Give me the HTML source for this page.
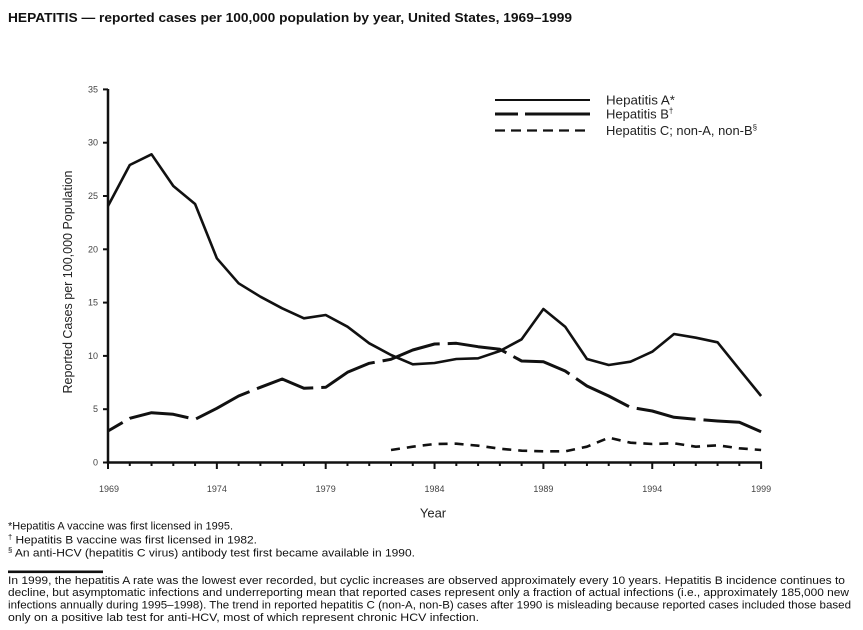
<!DOCTYPE html>
<html><head><meta charset="utf-8"><style>
html,body{margin:0;padding:0;background:#fff;}
svg{display:block;}
text{font-family:"Liberation Sans",Arial,sans-serif;}
</style></head><body>
<svg width="863" height="630" viewBox="0 0 863 630" xmlns="http://www.w3.org/2000/svg">
<rect width="863" height="630" fill="#fff"/>
<text x="8" y="22" font-size="13" font-weight="bold" fill="#111" textLength="564" lengthAdjust="spacingAndGlyphs">HEPATITIS — reported cases per 100,000 population by year, United States, 1969–1999</text>

<!-- axes -->
<g stroke="#111" stroke-width="2.5" fill="none">
<line x1="108" y1="89" x2="108" y2="463.5"/>
<line x1="106.8" y1="462.5" x2="762" y2="462.5"/>
</g>
<g stroke="#111" stroke-width="2">
<line x1="103" y1="462.5" x2="108" y2="462.5"/>
<line x1="103" y1="409.2" x2="108" y2="409.2"/>
<line x1="103" y1="355.9" x2="108" y2="355.9"/>
<line x1="103" y1="302.6" x2="108" y2="302.6"/>
<line x1="103" y1="249.3" x2="108" y2="249.3"/>
<line x1="103" y1="196" x2="108" y2="196"/>
<line x1="103" y1="142.7" x2="108" y2="142.7"/>
<line x1="103" y1="89.4" x2="108" y2="89.4"/>
</g>
<g stroke="#111" stroke-width="2">
<line x1="108" y1="462" x2="108" y2="469"/>
<line x1="129.77" y1="462" x2="129.77" y2="466"/>
<line x1="151.54" y1="462" x2="151.54" y2="466"/>
<line x1="173.31" y1="462" x2="173.31" y2="466"/>
<line x1="195.08" y1="462" x2="195.08" y2="466"/>
<line x1="216.85" y1="462" x2="216.85" y2="469"/>
<line x1="238.62" y1="462" x2="238.62" y2="466"/>
<line x1="260.39" y1="462" x2="260.39" y2="466"/>
<line x1="282.16" y1="462" x2="282.16" y2="466"/>
<line x1="303.93" y1="462" x2="303.93" y2="466"/>
<line x1="325.7" y1="462" x2="325.7" y2="469"/>
<line x1="347.47" y1="462" x2="347.47" y2="466"/>
<line x1="369.24" y1="462" x2="369.24" y2="466"/>
<line x1="391.01" y1="462" x2="391.01" y2="466"/>
<line x1="412.78" y1="462" x2="412.78" y2="466"/>
<line x1="434.55" y1="462" x2="434.55" y2="469"/>
<line x1="456.32" y1="462" x2="456.32" y2="466"/>
<line x1="478.09" y1="462" x2="478.09" y2="466"/>
<line x1="499.86" y1="462" x2="499.86" y2="466"/>
<line x1="521.63" y1="462" x2="521.63" y2="466"/>
<line x1="543.4" y1="462" x2="543.4" y2="469"/>
<line x1="565.17" y1="462" x2="565.17" y2="466"/>
<line x1="586.94" y1="462" x2="586.94" y2="466"/>
<line x1="608.71" y1="462" x2="608.71" y2="466"/>
<line x1="630.48" y1="462" x2="630.48" y2="466"/>
<line x1="652.25" y1="462" x2="652.25" y2="469"/>
<line x1="674.02" y1="462" x2="674.02" y2="466"/>
<line x1="695.79" y1="462" x2="695.79" y2="466"/>
<line x1="717.56" y1="462" x2="717.56" y2="466"/>
<line x1="739.33" y1="462" x2="739.33" y2="466"/>
<line x1="761.1" y1="462" x2="761.1" y2="469"/>
</g>

<!-- y tick labels -->
<g font-size="9" fill="#444" text-anchor="end">
<text x="98" y="465.5">0</text>
<text x="98" y="412.2">5</text>
<text x="98" y="358.9">10</text>
<text x="98" y="305.6">15</text>
<text x="98" y="252.3">20</text>
<text x="98" y="199">25</text>
<text x="98" y="145.7">30</text>
<text x="98" y="92.4">35</text>
</g>
<!-- x tick labels -->
<g font-size="9" fill="#444" text-anchor="middle">
<text x="109" y="492">1969</text>
<text x="216.85" y="492">1974</text>
<text x="325.7" y="492">1979</text>
<text x="434.55" y="492">1984</text>
<text x="543.4" y="492">1989</text>
<text x="652.25" y="492">1994</text>
<text x="761.1" y="492">1999</text>
</g>
<text x="433" y="517.5" font-size="13" fill="#222" text-anchor="middle">Year</text>
<text transform="translate(72,282) rotate(-90)" font-size="13" fill="#222" text-anchor="middle" textLength="223" lengthAdjust="spacingAndGlyphs">Reported Cases per 100,000 Population</text>

<!-- series -->
<g fill="none" stroke="#111" stroke-linejoin="round">
<polyline stroke-width="2.6" points="108,206 129.77,165 151.54,154.3 173.31,186 195.08,204 216.85,258.3 238.62,283.3 260.39,296.7 282.16,308.3 303.93,318.3 325.7,315 347.47,326.7 369.24,343.3 391.01,355 412.78,364.3 434.55,363 456.32,359 478.09,358.3 499.86,351 521.63,339.3 543.4,309 565.17,326.7 586.94,359 608.71,365 630.48,361.7 652.25,351.7 674.02,334 695.79,337.7 717.56,342.3 739.33,369.3 761.1,396"/>
<polyline stroke-width="3" stroke-dasharray="60 8" stroke-dashoffset="43" points="108,431 129.77,418.3 151.54,412.7 173.31,414.3 195.08,419.3 216.85,408.3 238.62,396 260.39,387.3 282.16,379 303.93,388.3 325.7,387.3 347.47,372.3 369.24,363.3 391.01,359.3 412.78,350 434.55,344 456.32,343.3 478.09,346.7 499.86,349.3 521.63,361 543.4,361.7 565.17,371 586.94,386 608.71,396 630.48,407.3 652.25,411 674.02,417.3 695.79,419.3 717.56,421 739.33,422.3 761.1,431.7"/>
<polyline stroke-width="2.6" stroke-dasharray="9 7" points="391.01,450 412.78,446.7 434.55,444 456.32,443.7 478.09,445.7 499.86,448.7 521.63,450.7 543.4,451.3 565.17,451.3 586.94,446.7 608.71,437.7 630.48,442.7 652.25,444 674.02,443.3 695.79,446.7 717.56,445.3 739.33,448.3 761.1,450"/>
</g>

<!-- legend -->
<g fill="none" stroke="#111">
<line x1="495" y1="100" x2="590" y2="100" stroke-width="2"/>
<line x1="495" y1="114" x2="590" y2="114" stroke-width="3" stroke-dasharray="23 7 70"/>
<line x1="495" y1="130.5" x2="591" y2="130.5" stroke-width="2.2" stroke-dasharray="10 6"/>
</g>
<g font-size="13" fill="#222">
<text x="606" y="104.5" textLength="69" lengthAdjust="spacingAndGlyphs">Hepatitis A*</text>
<text x="606" y="118.5">Hepatitis B<tspan font-size="8" dy="-5">†</tspan></text>
<text x="606" y="135" textLength="151" lengthAdjust="spacingAndGlyphs">Hepatitis C; non-A, non-B<tspan font-size="8" dy="-5">§</tspan></text>
</g>

<!-- footnotes -->
<g font-size="11" fill="#111">
<text x="8" y="529.5" textLength="225" lengthAdjust="spacingAndGlyphs">*Hepatitis A vaccine was first licensed in 1995.</text>
<text x="8" y="543.5" textLength="249" lengthAdjust="spacingAndGlyphs"><tspan font-size="7" dy="-4">†</tspan><tspan dy="4"> Hepatitis B vaccine was first licensed in 1982.</tspan></text>
<text x="8" y="556.5" textLength="407" lengthAdjust="spacingAndGlyphs"><tspan font-size="7" dy="-4">§</tspan><tspan dy="4"> An anti-HCV (hepatitis C virus) antibody test first became available in 1990.</tspan></text>
</g>
<rect x="8" y="570.5" width="95" height="2.6" fill="#111"/>
<g font-size="11" fill="#111">
<text x="8" y="584" textLength="837" lengthAdjust="spacingAndGlyphs">In 1999, the hepatitis A rate was the lowest ever recorded, but cyclic increases are observed approximately every 10 years. Hepatitis B incidence continues to</text>
<text x="8" y="596" textLength="841" lengthAdjust="spacingAndGlyphs">decline, but asymptomatic infections and underreporting mean that reported cases represent only a fraction of actual infections (i.e., approximately 185,000 new</text>
<text x="8" y="608.5" textLength="843" lengthAdjust="spacingAndGlyphs">infections annually during 1995–1998). The trend in reported hepatitis C (non-A, non-B) cases after 1990 is misleading because reported cases  included those based</text>
<text x="8" y="621" textLength="471" lengthAdjust="spacingAndGlyphs">only on a positive lab test for anti-HCV, most of which represent chronic HCV infection.</text>
</g>
</svg>
</body></html>
